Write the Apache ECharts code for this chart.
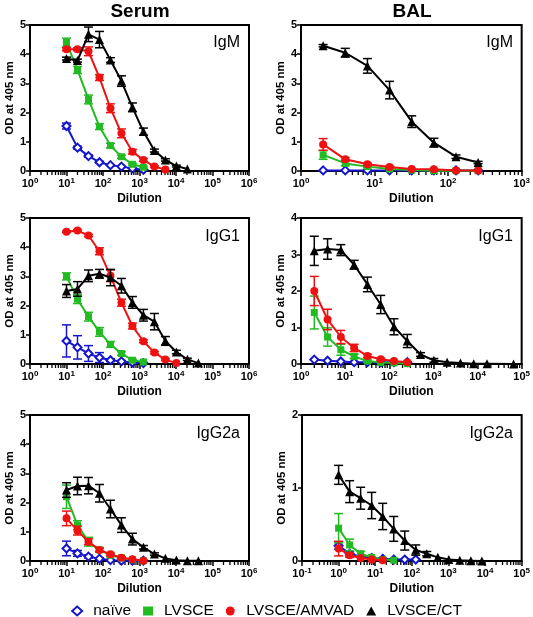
<!DOCTYPE html>
<html><head><meta charset="utf-8">
<script src="https://cdn.jsdelivr.net/npm/echarts@6/dist/echarts.min.js"></script>
<style>html,body{margin:0;padding:0;background:#fff}#c{width:533px;height:617px}</style>
</head><body><div id="c"></div>
<script>
// ---------- categories / groups ----------
const groupNames = ['naïve', 'LVSCE', 'LVSCE/AMVAD', 'LVSCE/CT'];
const columnTitles = ['Serum', 'BAL'];
const panelLabels = ['IgM', 'IgM', 'IgG1', 'IgG1', 'IgG2a', 'IgG2a'];

// ---------- dilutions ----------
const serumDil = [10, 20, 40, 80, 160, 320, 640, 1280, 2560, 5120, 10240, 20480, 40960];
const balIgMDil = [2, 4, 8, 16, 32, 64, 128, 256];
const balIgG1Dil = [2, 4, 8, 16, 32, 64, 128, 256];
const balIgG1CtDil = [2, 4, 8, 16, 32, 64, 128, 256, 512, 1024, 2048, 4096, 8192, 16384, 65536];
const balIgG2aDil = [1, 2, 4, 8, 16, 32, 64, 128, 256, 512, 1024, 2048, 4096, 8192];

// ---------- Serum IgM ----------
const serumIgM_naive = [1.54, 0.80, 0.51, 0.30, 0.20, 0.15, 0.09, 0.04];
const serumIgM_naiveErr = [0.10, 0.05, 0.04, 0.03, 0.02, 0.02, 0.02, 0.02];
const serumIgM_lvsce = [4.40, 3.46, 2.45, 1.52, 0.87, 0.49, 0.23, 0.13];
const serumIgM_lvsceErr = [0.15, 0.12, 0.15, 0.10, 0.08, 0.05, 0.03, 0.03];
const serumIgM_amvad = [4.17, 4.17, 4.10, 3.20, 2.15, 1.29, 0.66, 0.38, 0.15, 0.05];
const serumIgM_amvadErr = [0.05, 0.05, 0.15, 0.10, 0.15, 0.15, 0.08, 0.05, 0.03, 0.02];
const serumIgM_ct = [3.85, 3.78, 4.68, 4.50, 3.80, 3.08, 2.18, 1.35, 0.70, 0.38, 0.17, 0.07];
const serumIgM_ctErr = [0.05, 0.05, 0.25, 0.28, 0.08, 0.18, 0.15, 0.12, 0.05, 0.04, 0.03, 0.02];

// ---------- Serum IgG1 ----------
const serumIgG1_naive = [0.79, 0.57, 0.36, 0.22, 0.13, 0.09, 0.05, 0.03];
const serumIgG1_naiveErr = [0.55, 0.40, 0.27, 0.17, 0.05, 0.03, 0.02, 0.02];
const serumIgG1_lvsce = [3.00, 2.22, 1.62, 1.10, 0.67, 0.36, 0.13, 0.07];
const serumIgG1_lvsceErr = [0.12, 0.15, 0.15, 0.15, 0.10, 0.06, 0.03, 0.02];
const serumIgG1_amvad = [4.53, 4.57, 4.40, 3.86, 3.02, 2.10, 1.30, 0.78, 0.39, 0.15, 0.03];
const serumIgG1_amvadErr = [0.03, 0.03, 0.04, 0.12, 0.20, 0.12, 0.10, 0.05, 0.04, 0.03, 0.02];
const serumIgG1_ct = [2.50, 2.57, 3.02, 3.09, 2.96, 2.68, 2.11, 1.67, 1.45, 0.79, 0.41, 0.16, 0.03];
const serumIgG1_ctErr = [0.22, 0.25, 0.20, 0.15, 0.28, 0.25, 0.20, 0.20, 0.28, 0.15, 0.06, 0.04, 0.02];

// ---------- Serum IgG2a ----------
const serumIgG2a_naive = [0.43, 0.26, 0.15, 0.08, 0.03, 0.01, 0.01, 0.01];
const serumIgG2a_naiveErr = [0.25, 0.10, 0.05, 0.03, 0.02, 0.01, 0.01, 0.01];
const serumIgG2a_lvsce = [2.20, 1.23, 0.66, 0.38, 0.20, 0.11, 0.04, 0.01];
const serumIgG2a_lvsceErr = [0.40, 0.15, 0.15, 0.08, 0.05, 0.03, 0.02, 0.01];
const serumIgG2a_amvad = [1.46, 1.04, 0.66, 0.38, 0.23, 0.11, 0.06, 0.01];
const serumIgG2a_amvadErr = [0.25, 0.15, 0.10, 0.06, 0.04, 0.03, 0.02, 0.01];
const serumIgG2a_ct = [2.43, 2.57, 2.58, 2.32, 1.78, 1.23, 0.75, 0.47, 0.24, 0.09, 0.03, 0.01, 0.01];
const serumIgG2a_ctErr = [0.25, 0.30, 0.28, 0.30, 0.30, 0.25, 0.20, 0.06, 0.04, 0.02, 0.02, 0.01, 0.01];

// ---------- BAL IgM ----------
const balIgM_naive = [0.02, 0.02, 0.02, 0.02, 0.02, 0.02, 0.02, 0.02];
const balIgM_naiveErr = [0.01, 0.01, 0.01, 0.01, 0.01, 0.01, 0.01, 0.01];
const balIgM_lvsce = [0.55, 0.26, 0.15, 0.07, 0.03, 0.01, 0.01, 0.01];
const balIgM_lvsceErr = [0.15, 0.08, 0.04, 0.02, 0.01, 0.01, 0.01, 0.01];
const balIgM_amvad = [0.91, 0.40, 0.23, 0.14, 0.07, 0.06, 0.02, 0.02];
const balIgM_amvadErr = [0.20, 0.06, 0.04, 0.03, 0.02, 0.02, 0.01, 0.01];
const balIgM_ct = [4.29, 4.05, 3.60, 2.77, 1.69, 0.97, 0.49, 0.29];
const balIgM_ctErr = [0.04, 0.15, 0.25, 0.30, 0.20, 0.15, 0.06, 0.04];

// ---------- BAL IgG1 ----------
const balIgG1_naive = [0.12, 0.09, 0.07, 0.05, 0.05, 0.05, 0.05, 0.05];
const balIgG1_naiveErr = [0.02, 0.02, 0.01, 0.01, 0.01, 0.01, 0.01, 0.01];
const balIgG1_lvsce = [1.41, 0.74, 0.39, 0.21, 0.08, 0.04, 0.03, 0.01];
const balIgG1_lvsceErr = [0.45, 0.25, 0.15, 0.06, 0.03, 0.02, 0.01, 0.01];
const balIgG1_amvad = [2.00, 1.22, 0.74, 0.44, 0.22, 0.13, 0.08, 0.05];
const balIgG1_amvadErr = [0.40, 0.28, 0.18, 0.10, 0.05, 0.03, 0.02, 0.02];
const balIgG1_ct = [3.10, 3.15, 3.12, 2.72, 2.18, 1.63, 1.02, 0.63, 0.26, 0.10, 0.05, 0.03, 0.01, 0.01, 0.00];
const balIgG1_ctErr = [0.40, 0.28, 0.15, 0.12, 0.20, 0.25, 0.22, 0.18, 0.05, 0.05, 0.02, 0.01, 0.01, 0.01, 0.00];

// ---------- BAL IgG2a ----------
const balIgG2a_naive = [0.21, 0.10, 0.06, 0.04, 0.03, 0.02, 0.02, 0.02];
const balIgG2a_naiveErr = [0.05, 0.03, 0.02, 0.01, 0.01, 0.01, 0.01, 0.01];
const balIgG2a_lvsce = [0.45, 0.22, 0.10, 0.05, 0.02, 0.01];
const balIgG2a_lvsceErr = [0.20, 0.08, 0.03, 0.02, 0.01, 0.01];
const balIgG2a_amvad = [0.17, 0.08, 0.04, 0.02, 0.01];
const balIgG2a_amvadErr = [0.10, 0.03, 0.02, 0.01, 0.01];
const balIgG2a_ct = [1.18, 0.95, 0.86, 0.76, 0.61, 0.44, 0.28, 0.15, 0.10, 0.05, 0.02, 0.01, 0.005, 0.00];
const balIgG2a_ctErr = [0.13, 0.15, 0.15, 0.18, 0.18, 0.17, 0.13, 0.07, 0.03, 0.02, 0.01, 0.01, 0.00, 0.00];

// ---------- styling ----------
const colors = ['#1515cc', '#22bb22', '#ee1111', '#000000'];
const symbols = ['emptyDiamond', 'rect', 'circle', 'triangle'];
const symbolSizes = [8, 7, 8, 9];
const FONT = '"Liberation Sans", Arial, sans-serif';

// panels in reading order (row-major)
const panels = [
  { grid: { left: 30, top: 25, width: 219, height: 146 }, xmin: 1, xmax: 1e6, ymax: 5,
    sets: [[serumDil, serumIgM_naive, serumIgM_naiveErr], [serumDil, serumIgM_lvsce, serumIgM_lvsceErr],
           [serumDil, serumIgM_amvad, serumIgM_amvadErr], [serumDil, serumIgM_ct, serumIgM_ctErr]] },
  { grid: { left: 301, top: 25, width: 221, height: 146 }, xmin: 1, xmax: 1e3, ymax: 5,
    sets: [[balIgMDil, balIgM_naive, balIgM_naiveErr], [balIgMDil, balIgM_lvsce, balIgM_lvsceErr],
           [balIgMDil, balIgM_amvad, balIgM_amvadErr], [balIgMDil, balIgM_ct, balIgM_ctErr]] },
  { grid: { left: 30, top: 218, width: 219, height: 146 }, xmin: 1, xmax: 1e6, ymax: 5,
    sets: [[serumDil, serumIgG1_naive, serumIgG1_naiveErr], [serumDil, serumIgG1_lvsce, serumIgG1_lvsceErr],
           [serumDil, serumIgG1_amvad, serumIgG1_amvadErr], [serumDil, serumIgG1_ct, serumIgG1_ctErr]] },
  { grid: { left: 301, top: 218, width: 221, height: 146 }, xmin: 1, xmax: 1e5, ymax: 4,
    sets: [[balIgG1Dil, balIgG1_naive, balIgG1_naiveErr], [balIgG1Dil, balIgG1_lvsce, balIgG1_lvsceErr],
           [balIgG1Dil, balIgG1_amvad, balIgG1_amvadErr], [balIgG1CtDil, balIgG1_ct, balIgG1_ctErr]] },
  { grid: { left: 30, top: 415, width: 219, height: 146 }, xmin: 1, xmax: 1e6, ymax: 5,
    sets: [[serumDil, serumIgG2a_naive, serumIgG2a_naiveErr], [serumDil, serumIgG2a_lvsce, serumIgG2a_lvsceErr],
           [serumDil, serumIgG2a_amvad, serumIgG2a_amvadErr], [serumDil, serumIgG2a_ct, serumIgG2a_ctErr]] },
  { grid: { left: 302, top: 415, width: 220, height: 146 }, xmin: 0.1, xmax: 1e5, ymax: 2,
    sets: [[balIgG2aDil, balIgG2a_naive, balIgG2a_naiveErr], [balIgG2aDil, balIgG2a_lvsce, balIgG2a_lvsceErr],
           [balIgG2aDil, balIgG2a_amvad, balIgG2a_amvadErr], [balIgG2aDil, balIgG2a_ct, balIgG2a_ctErr]] }
];

function errRender(color) {
  return function (params, api) {
    const x = api.value(0), y = api.value(1), e = api.value(2);
    if (!(e > 0.025)) return;
    const hi = api.coord([x, y + e]);
    const lo = api.coord([x, Math.max(0, y - e)]);
    const w = 4.5;
    const st = { stroke: color, lineWidth: 1.5 };
    return { type: 'group', children: [
      { type: 'line', shape: { x1: hi[0], y1: hi[1], x2: lo[0], y2: lo[1] }, style: st },
      { type: 'line', shape: { x1: hi[0] - w, y1: hi[1], x2: hi[0] + w, y2: hi[1] }, style: st },
      { type: 'line', shape: { x1: lo[0] - w, y1: lo[1], x2: lo[0] + w, y2: lo[1] }, style: st }
    ] };
  };
}

function minorTickRender(params, api) {
  const p = api.coord([api.value(0), 0]);
  return { type: 'line', shape: { x1: p[0], y1: p[1] + 1, x2: p[0], y2: p[1] + 4 },
           style: { stroke: '#000', lineWidth: 1.3 } };
}

const grids = [], xAxes = [], yAxes = [], series = [], titles = [];

panels.forEach((pn, i) => {
  grids.push(Object.assign({ show: true, borderColor: '#000', borderWidth: 2, backgroundColor: 'transparent', containLabel: false }, pn.grid));
  xAxes.push({
    type: 'log', logBase: 10, gridIndex: i, min: pn.xmin, max: pn.xmax,
    name: 'Dilution', nameLocation: 'middle', nameGap: 22,
    nameTextStyle: { fontFamily: FONT, fontWeight: 'bold', fontSize: 12, color: '#000' },
    axisLine: { show: true, lineStyle: { color: '#000', width: 2 } },
    axisTick: { show: true, length: 5, lineStyle: { color: '#000', width: 1.5 } },
    splitLine: { show: false },
    axisLabel: {
      margin: 6, color: '#000', fontFamily: FONT,
      formatter: v => '{b|10}{s|' + Math.round(Math.log10(v)) + '}',
      rich: { b: { fontSize: 11, fontWeight: 'bold', fontFamily: FONT, color: '#000' },
              s: { fontSize: 8, fontWeight: 'bold', fontFamily: FONT, color: '#000', padding: [0, 0, 6, 0] } }
    }
  });
  yAxes.push({
    type: 'value', gridIndex: i, min: 0, max: pn.ymax, interval: 1,
    name: 'OD at 405 nm', nameLocation: 'middle', nameGap: 14,
    nameTextStyle: { fontFamily: FONT, fontWeight: 'bold', fontSize: 11.5, color: '#000' },
    axisLine: { show: true, lineStyle: { color: '#000', width: 2 } },
    axisTick: { show: true, length: 4, lineStyle: { color: '#000', width: 1.5 } },
    splitLine: { show: false },
    axisLabel: { margin: 4, color: '#000', fontFamily: FONT, fontWeight: 'bold', fontSize: 11 }
  });

  // minor ticks on the log axis (2..9 x 10^k)
  const minor = [];
  for (let e = Math.round(Math.log10(pn.xmin)); e < Math.round(Math.log10(pn.xmax)); e++) {
    for (let k = 2; k <= 9; k++) minor.push([k * Math.pow(10, e), 0]);
  }
  series.push({ type: 'custom', xAxisIndex: i, yAxisIndex: i, data: minor, renderItem: minorTickRender,
                silent: true, z: 1, clip: false, encode: { x: 0, y: 1 } });

  pn.sets.forEach((set, g) => {
    const [dil, vals, errs] = set;
    series.push({
      type: 'custom', name: groupNames[g], xAxisIndex: i, yAxisIndex: i, z: 2 + g * 2, clip: false,
      data: vals.map((v, k) => [dil[k], v, errs[k]]),
      encode: { x: 0, y: 1 }, renderItem: errRender(colors[g]), silent: true
    });
    series.push({
      type: 'line', name: groupNames[g], xAxisIndex: i, yAxisIndex: i, z: 3 + g * 2, clip: false,
      data: vals.map((v, k) => [dil[k], v]),
      symbol: symbols[g], symbolSize: symbolSizes[g], showAllSymbol: true,
      lineStyle: { color: colors[g], width: 2 },
      itemStyle: { color: colors[g], borderColor: colors[g], borderWidth: g === 0 ? 1.6 : 0 },
      emphasis: { disabled: true }, animation: false
    });
  });

  const rightEdge = pn.grid.left + pn.grid.width - 9;
  const topByRow = [35, 229, 426];
  titles.push({ text: panelLabels[i], right: 533 - rightEdge, top: topByRow[Math.floor(i / 2)], padding: 0,
                textStyle: { fontFamily: FONT, fontWeight: 'normal', fontSize: 16, color: '#000' } });
});

titles.push({ text: columnTitles[0], left: 140, top: 2, textAlign: 'center', padding: 0,
              textStyle: { fontFamily: FONT, fontWeight: 'bold', fontSize: 19, color: '#000' } });
titles.push({ text: columnTitles[1], left: 412, top: 2, textAlign: 'center', padding: 0,
              textStyle: { fontFamily: FONT, fontWeight: 'bold', fontSize: 19, color: '#000' } });

const chart = echarts.init(document.getElementById('c'), null, { renderer: 'canvas' });
chart.setOption({
  animation: false,
  backgroundColor: '#fff',
  title: titles,
  grid: grids,
  xAxis: xAxes,
  yAxis: yAxes,
  legend: {
    left: 'center', top: 598, itemGap: 12, itemWidth: 10, itemHeight: 9, selectedMode: false,
    textStyle: { fontFamily: FONT, fontSize: 15.5, color: '#000', padding: [0, 0, 0, 6] },
    data: groupNames.map((n, g) => ({
      name: n, icon: ['diamond', 'rect', 'circle', 'triangle'][g],
      itemStyle: g === 0 ? { color: '#fff', borderColor: colors[0], borderWidth: 2 } : { color: colors[g], borderWidth: 0 }
    }))
  },
  series: series
});
</script>
</body></html>
